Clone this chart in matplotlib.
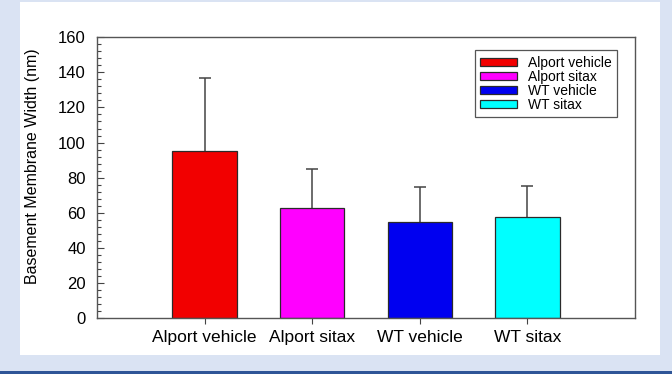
import matplotlib.pyplot as plt
from matplotlib.patches import Rectangle
from matplotlib.ticker import MultipleLocator

groups = ['Alport vehicle', 'Alport sitax', 'WT vehicle', 'WT sitax']
width_nm = [95.2, 62.8, 55.0, 57.6]
sd_nm = [41.3, 22.4, 19.9, 18.0]
colors = ['#f20000', '#ff00ff', '#0000f0', '#00ffff']

plt.rcParams['font.family'] = ['Liberation Sans', 'DejaVu Sans']

fig = plt.figure(figsize=(6.72, 3.74), dpi=100)
fig.patch.set_facecolor('#dae3f3')
# white panel and the dark strip along the bottom
fig.patches.append(Rectangle((0.0298, 0.0508), 0.9524, 0.944, transform=fig.transFigure,
                             facecolor='white', edgecolor='none', zorder=-5))
fig.patches.append(Rectangle((0, 0), 1, 0.009, transform=fig.transFigure,
                             facecolor='#2f5597', edgecolor='none', zorder=-5))

ax = fig.add_axes([0.1443, 0.1484, 0.8007, 0.7526])
ax.set_zorder(2)
ax.set_facecolor('white')

x = range(1, len(groups) + 1)
bars = ax.bar(x, width_nm, width=0.6, color=colors, edgecolor='#2a2a2a', linewidth=0.9,
              zorder=2)
# upper error bars only
eb = ax.errorbar(x, width_nm, yerr=[[0] * len(sd_nm), sd_nm], fmt='none', ecolor='#444444',
                 elinewidth=1.1, capsize=4, capthick=1.1, zorder=1)
eb[1][0].set_visible(False)

ax.set_xlim(0, 5)
ax.set_ylim(0, 160)
ax.set_xticks(list(x))
ax.set_xticklabels(groups, fontsize=12.5)
ax.yaxis.set_major_locator(MultipleLocator(20))
ax.yaxis.set_minor_locator(MultipleLocator(4))
ax.tick_params(axis='y', which='major', direction='in', length=5, width=0.8,
               color='#444444', labelsize=12, pad=8)
ax.tick_params(axis='y', which='minor', direction='in', length=3, width=0.8, color='#444444')
ax.tick_params(axis='x', direction='out', length=4, width=0.8, color='#444444', pad=4)
for s in ax.spines.values():
    s.set_color('#555555')
    s.set_linewidth(1.0)

ax.set_ylabel('Basement Membrane Width (nm)', fontsize=11.5)
ax.yaxis.set_label_coords(-0.106, 0.542)

for b, g in zip(bars, groups):
    b.set_label(g)
leg = ax.legend(loc='upper right', bbox_to_anchor=(0.9665, 0.953), fontsize=10,
                fancybox=False, edgecolor='#555555', framealpha=1,
                handlelength=2.6, handleheight=0.5, labelspacing=0.0,
                borderpad=0.4, handletextpad=0.8, borderaxespad=0)
leg.get_frame().set_linewidth(0.9)

fig.savefig('out.png', dpi=100, facecolor=fig.get_facecolor())
